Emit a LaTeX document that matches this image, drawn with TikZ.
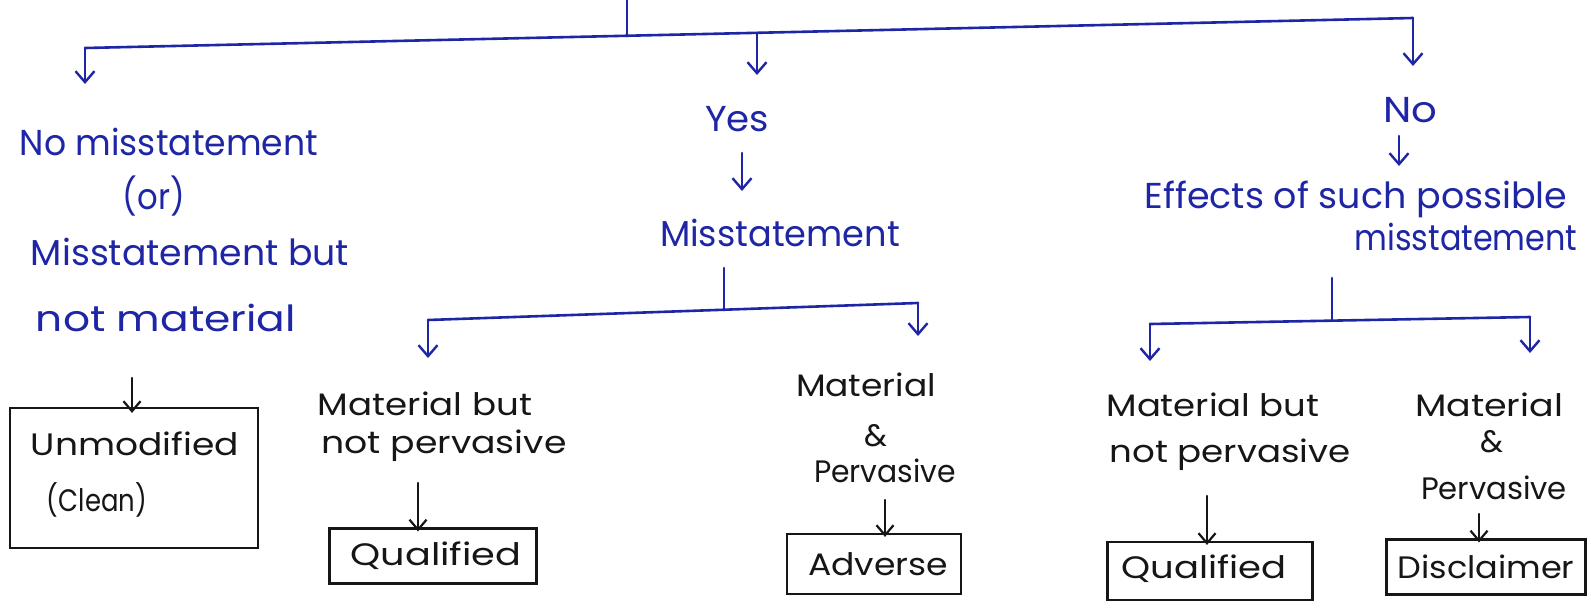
\documentclass[tikz,border=0pt]{standalone}
\usepackage{fontspec}
\setmainfont{Poppins}
\usetikzlibrary{arrows.meta}
\definecolor{pen}{RGB}{30,38,165}
\definecolor{ink}{RGB}{22,22,22}
% set a label to a given width, keeping its height
\newcommand{\fitw}[2]{\resizebox{#1pt}{\height}{#2}}
\begin{document}
\begin{tikzpicture}[x=1pt,y=-1pt,
  blueline/.style={pen,line width=2.6pt,line cap=round,line join=round},
  bluearrow/.style={blueline,-{Straight Barb[length=11pt,width=19pt,line width=2.4pt]}},
  inkline/.style={ink,line width=2.2pt,line cap=round},
  inkarrow/.style={inkline,-{Straight Barb[length=10pt,width=17pt,line width=2.2pt]}},
  bluetext/.style={pen,font=\fontsize{36}{40}\selectfont,inner sep=0pt},
  inktext/.style={ink,font=\fontsize{31}{34}\selectfont,inner sep=0pt},
  result/.style={draw=ink,line width=2.2pt,inner sep=0pt}
]
\useasboundingbox (0,0) rectangle (1591,608);
\fill[white] (0,0) rectangle (1591,608);

% ---- top bus ----
\coordinate (top)  at (627,0);
\coordinate (topj) at (627,36);
\coordinate (h1l)  at (85,48);
\coordinate (h1m)  at (757,33);
\coordinate (h1r)  at (1413,18);
\draw[blueline] (top) -- (topj);
\draw[blueline] (h1l) -- (h1r);

% ---- left branch ----
\node[bluetext] (nomis)  at (169,142) {\fitw{298}{No misstatement}};
\node[bluetext] (or)     at (154,196) {\fitw{62}{(or)}};
\node[bluetext] (misbut) at (190,252) {\fitw{318}{Misstatement but}};
\node[bluetext] (notmat) at (166,318) {\fitw{260}{not material}};
\coordinate (a1) at (85,84);
\draw[bluearrow] (h1l) -- (a1);
\node[result,minimum width=248,minimum height=140] (unmod) at (134,478) {};
\node[inktext] (unmod1) at (135,444) {\fitw{208}{Unmodified}};
\node[inktext] (unmod2) at (97,500) {\fitw{100}{(Clean)}};
\coordinate (u0) at (132,378);
\draw[inkarrow] (u0) -- ([yshift=-6pt]u0 |- unmod.north);

% ---- middle branch ----
\node[bluetext] (yes) at (737,119) {\fitw{64}{Yes}};
\node[bluetext] (mis) at (780,233) {\fitw{240}{Misstatement}};
\coordinate (a2) at (757,75);
\draw[bluearrow] (h1m) -- (a2);
\coordinate (y0) at (742,153);
\coordinate (y1) at (742,191);
\draw[bluearrow] (y0) -- (y1);
\coordinate (h2l) at (428,320);
\coordinate (h2r) at (918,303);
\coordinate (m0) at (724,268);
\coordinate (m1) at (724,310);
\draw[blueline] (m0) -- (m1);
\draw[blueline] (h2l) -- (h2r);
\coordinate (a3) at (428,358);
\coordinate (a4) at (918,336);
\draw[bluearrow] (h2l) -- (a3);
\draw[bluearrow] (h2r) -- (a4);

\node[inktext] (mbnp1) at (425,404) {\fitw{214}{Material but}};
\node[inktext] (mbnp2) at (444,446) {\fitw{245}{not pervasive}};
\coordinate (q0) at (418,483);
\node[result,minimum width=207,minimum height=55] (qual1) at (433,556) {};
\node[inktext] (qual1t) at (436,556) {\fitw{171}{Qualified}};
\draw[inkarrow] (q0) -- ([yshift=-4pt]q0 |- qual1.north);

\node[inktext] (mp1) at (866,385) {\fitw{140}{Material}};
\node[inktext] (mp2) at (876,436) {\&};
\node[inktext] (mp3) at (885,471) {\fitw{142}{Pervasive}};
\coordinate (p0) at (885,500);
\node[result,minimum width=174,minimum height=60] (adv) at (874,564) {};
\node[inktext] (advt) at (878,564) {\fitw{140}{Adverse}};
\draw[inkarrow] (p0) -- ([yshift=-4pt]p0 |- adv.north);

% ---- right branch ----
\node[bluetext] (no) at (1410,110) {\fitw{54}{No}};
\coordinate (a5) at (1413,66);
\draw[bluearrow] (h1r) -- (a5);
\coordinate (n0) at (1399,136);
\coordinate (n1) at (1399,166);
\draw[bluearrow] (n0) -- (n1);
\node[bluetext] (eff1) at (1356,199) {\fitw{423}{Effects of such possible}};
\node[bluetext] (eff2) at (1466,237) {\fitw{223}{misstatement}};
\coordinate (h3l) at (1150,324);
\coordinate (h3r) at (1530,317);
\coordinate (e0) at (1332,278);
\coordinate (e1) at (1332,321);
\draw[blueline] (e0) -- (e1);
\draw[blueline] (h3l) -- (h3r);
\coordinate (a6) at (1150,361);
\coordinate (a7) at (1530,353);
\draw[bluearrow] (h3l) -- (a6);
\draw[bluearrow] (h3r) -- (a7);

\node[inktext] (mbnp3) at (1213,405) {\fitw{213}{Material but}};
\node[inktext] (mbnp4) at (1230,455) {\fitw{241}{not pervasive}};
\coordinate (q2) at (1207,496);
\node[result,minimum width=205,minimum height=58] (qual2) at (1210,571) {};
\node[inktext] (qual2t) at (1204,569) {\fitw{165}{Qualified}};
\draw[inkarrow] (q2) -- ([yshift=-4pt]q2 |- qual2.north);

\node[inktext] (mp4) at (1489,405) {\fitw{148}{Material}};
\node[inktext] (mp5) at (1492,442) {\&};
\node[inktext] (mp6) at (1494,488) {\fitw{146}{Pervasive}};
\coordinate (p2) at (1479,514);
\node[result,minimum width=199,minimum height=55] (disc) at (1486,567) {};
\node[inktext] (disct) at (1486,567) {\fitw{177}{Disclaimer}};
\draw[inkarrow] (p2) -- ([yshift=-4pt]p2 |- disc.north);
\end{tikzpicture}
\end{document}
